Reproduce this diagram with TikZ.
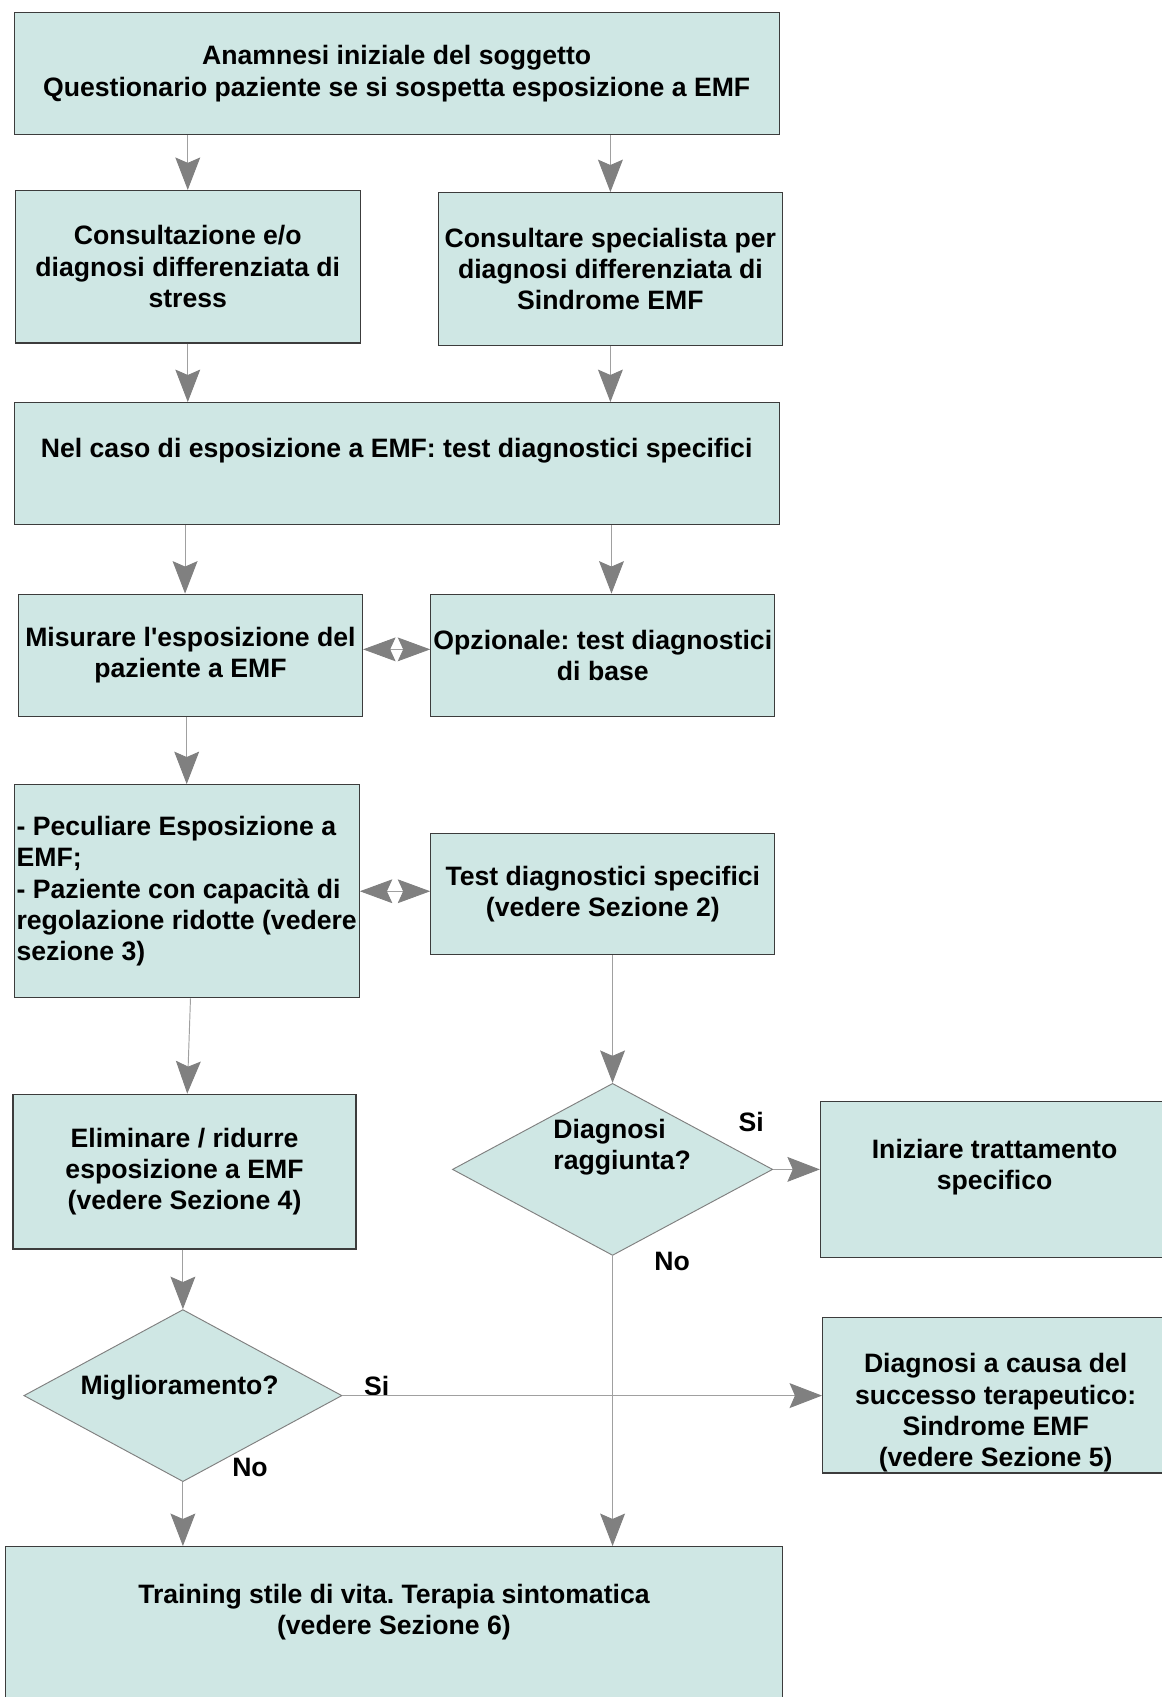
\documentclass[tikz,border=0pt]{standalone}
\usepackage{fontspec}
\setmainfont{Liberation Sans}
\usetikzlibrary{arrows.meta, shapes.geometric, calc}
\definecolor{BoxFill}{HTML}{CFE7E4}
\definecolor{BoxLine}{HTML}{3C3C3C}
\definecolor{LineGray}{HTML}{A0A0A0}
\definecolor{HeadGray}{HTML}{808080}
\frenchspacing
\tikzset{
  tbox/.style={draw=BoxLine, line width=0.6pt, fill=BoxFill, align=center,
    inner sep=1pt, font=\fontsize{14}{16.5}\selectfont\bfseries},
  dbox/.style={diamond, draw=HeadGray, line width=0.5pt, fill=BoxFill,
    inner sep=0pt, minimum height=3.18cm},
  txt/.style={inner sep=0pt, font=\fontsize{14}{16.5}\selectfont\bfseries},
  flow/.style={-{Stealth[length=6mm, width=4.6mm, inset=1mm, color=HeadGray]},
    draw=LineGray, line width=0.5pt},
  flowd/.style={{Stealth[length=6mm, width=4.4mm, inset=1mm, color=HeadGray]}-{Stealth[length=6mm, width=4.4mm, inset=1mm, color=HeadGray]},
    draw=LineGray, line width=0.5pt},
}

\begin{document}
\begin{tikzpicture}[x=0.02cm, y=-0.02cm]
    \useasboundingbox (0,0) rectangle (1073,1568);
    % boxes
    \node[tbox, minimum width=14.14cm, minimum height=2.26cm] (anam) at (366.5,68)
      {Anamnesi iniziale del soggetto\\Questionario paziente se si sospetta esposizione a EMF};
    \node[tbox, minimum width=6.38cm, minimum height=2.82cm] (stress) at (173.5,246.5)
      {Consultazione e/o\\diagnosi differenziata di\\stress};
    \node[tbox, minimum width=6.36cm, minimum height=2.82cm] (spec) at (564,248.5)
      {Consultare specialista per\\diagnosi differenziata di\\Sindrome EMF};
    \node[tbox, minimum width=14.14cm, minimum height=2.26cm,
      label={[txt, yshift=0.24cm]center:Nel caso di esposizione a EMF: test diagnostici specifici}] (caso) at (366.5,428.5) {};
    \node[tbox, minimum width=6.36cm, minimum height=2.26cm] (misura) at (176,605.5)
      {Misurare l\textquotesingle esposizione del\\paziente a EMF};
    \node[tbox, minimum width=6.36cm, minimum height=2.26cm] (opz) at (557,605.5)
      {Opzionale: test diagnostici\\di base};
    \node[tbox, align=left, minimum width=6.38cm, minimum height=3.94cm] (pecul) at (172.5,823.5)
      {- Peculiare Esposizione a\\EMF;\\- Paziente con capacità di\\regolazione ridotte (vedere\\sezione 3)};
    \node[tbox, minimum width=6.36cm, minimum height=2.24cm] (test) at (557,826)
      {Test diagnostici specifici\\(vedere Sezione 2)};
    \node[tbox, minimum width=6.34cm, minimum height=2.86cm] (elim) at (170.5,1082.5)
      {Eliminare / ridurre\\esposizione a EMF\\(vedere Sezione 4)};
    \node[tbox, minimum width=6.44cm, minimum height=2.88cm,
      label={[txt, align=center, yshift=0.23cm]center:{Iniziare trattamento\\specifico}}] (iniz) at (919,1090) {};
    \node[tbox, minimum width=6.40cm, minimum height=2.88cm,
      label={[txt, align=center, yshift=-0.33cm]center:{Diagnosi a causa del\\successo terapeutico:\\Sindrome EMF\\(vedere Sezione 5)}}] (causa) at (920,1289) {};
    \node[tbox, minimum width=14.36cm, minimum height=2.88cm,
      label={[txt, align=center, yshift=0.23cm]center:{Training stile di vita. Terapia sintomatica\\(vedere Sezione 6)}}] (train) at (364,1501) {};
    % decisions
    \node[dbox, minimum width=5.92cm] (diag) at (566,1080.5) {};
    \node[txt, align=left, anchor=west] (diagt) at (511,1060) {Diagnosi\\raggiunta?};
    \node[dbox, minimum width=5.88cm] (migl) at (169,1289.5) {};
    \node[txt] (miglt) at (166,1282) {Miglioramento?};
    % answers
    \node[txt] (si1) at (694,1037) {Si};
    \node[txt] (no1) at (621,1166) {No};
    \node[txt] (si2) at (348,1281) {Si};
    \node[txt] (no2) at (231,1356) {No};
    % connectors
    \draw[flow] (anam.south -| stress) -- (stress.north);
    \draw[flow] (anam.south -| spec) -- (spec.north);
    \draw[flow] (stress.south) -- (caso.north -| stress);
    \draw[flow] (spec.south) -- (caso.north -| spec);
    \draw[flow] ([xshift=-0.1cm]caso.south -| misura) -- ([xshift=-0.1cm]misura.north);
    \draw[flow] ([xshift=0.16cm]caso.south -| opz) -- ([xshift=0.16cm]opz.north);
    \draw[flowd] ([yshift=0.11cm]misura.east) -- ([yshift=0.11cm]misura.east -| opz.west);
    \draw[flow] (misura.south -| pecul) -- (pecul.north);
    \draw[flowd] (pecul.east) -- (pecul.east -| test.west);
    \draw[flow] ([xshift=0.07cm]pecul.south) -- ([xshift=0.05cm]elim.north);
    \draw[flow] (test.south -| diag) -- (diag.north);
    \draw[flow] (diag.east) -- (diag.east -| iniz.west);
    \draw[flow] (elim.south -| migl) -- (migl.north);
    \draw[flow] (migl.east) -- (migl.east -| causa.west);
    \draw[flow] (diag.south) -- (train.north -| diag);
    \draw[flow] (migl.south) -- (train.north -| migl);
\end{tikzpicture}
\end{document}
